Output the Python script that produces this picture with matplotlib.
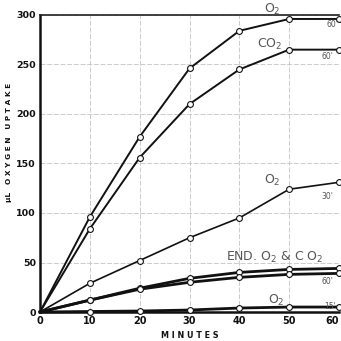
"""Oxygen uptake vs time, redrawn from an old scanned figure."""

import matplotlib

matplotlib.use("Agg")
import matplotlib.pyplot as plt

minutes = [0, 10, 20, 30, 40, 50, 60]
o2_60 = [0, 96, 177, 246, 284, 296, 296]
co2_60 = [0, 84, 156, 210, 245, 265, 265]
o2_30 = [0, 29, 52, 75, 95, 124, 131]
end_o2 = [0, 12, 24, 34, 40, 43, 44]
end_co2 = [0, 12, 23, 30, 35, 38, 39]
o2_15 = [0, 0.5, 1, 2, 4, 5, 5]

x_ticks = [0, 10, 20, 30, 40, 50, 60]
y_ticks = [0, 50, 100, 150, 200, 250, 300]

INK = "#111111"
PEN = "#555555"

fig = plt.figure(figsize=(3.41, 3.41), dpi=100)
ax = fig.add_axes([40 / 341, 29 / 341, 299 / 341, 297 / 341])

series = [
    (o2_60, 1.4),
    (co2_60, 1.4),
    (o2_30, 1.2),
    (end_o2, 2.0),
    (end_co2, 2.0),
    (o2_15, 2.0),
]
for values, lw in series:
    ax.plot(minutes, values, color=INK, lw=lw, marker="o", markersize=4.2,
            markerfacecolor="white", markeredgecolor=INK, markeredgewidth=0.8,
            markevery=list(range(1, len(minutes))), clip_on=False, zorder=3)

ax.set_xlim(0, 60)
ax.set_ylim(0, 300)
ax.set_xticks(x_ticks)
ax.set_yticks(y_ticks)
ax.set_xticklabels([str(v) for v in x_ticks], fontsize=7, fontweight="bold")
ax.set_yticklabels([str(v) for v in y_ticks], fontsize=6.8, fontweight="bold")
ax.get_xticklabels()[-1].set_ha("right")
ax.tick_params(length=0, pad=3, colors=INK)
ax.grid(True, color="#c4c4c4", lw=0.6, ls=(0, (6, 2)))
ax.set_axisbelow(True)

for side in ["left", "bottom"]:
    ax.spines[side].set_linewidth(1.8)
    ax.spines[side].set_color(INK)
ax.spines["top"].set_linewidth(1.2)
ax.spines["top"].set_color("#222222")
ax.spines["right"].set_visible(False)

ax.text(-0.103, 0.57, "μL   O X Y G E N   U P T A K E", transform=ax.transAxes,
        rotation=90, ha="center", va="center", fontsize=5.3, fontweight="bold", color=INK)
ax.text(0.5, -0.078, "M I N U T E S", transform=ax.transAxes, ha="center", va="center",
        fontsize=5.8, fontweight="bold", color=INK)

label_kw = dict(color=PEN, fontsize=9, ha="left", va="center")
small_kw = dict(color=PEN, fontsize=5.5, ha="left", va="center")
ax.text(45, 306, "O$_2$", clip_on=False, **label_kw)
ax.text(57.5, 290, "60'", **small_kw)
ax.text(43.5, 270, "CO$_2$", **label_kw)
ax.text(56.5, 258, "60'", **small_kw)
ax.text(45, 133, "O$_2$", **label_kw)
ax.text(56.5, 117, "30'", **small_kw)
ax.text(37.3, 55, "END. O$_2$ & C O$_2$", **label_kw)
ax.text(56.5, 31, "60'", **small_kw)
ax.text(45.8, 12, "O$_2$", **label_kw)
ax.text(57, 6, "15'", **small_kw)

fig.savefig("out.png", dpi=100)
